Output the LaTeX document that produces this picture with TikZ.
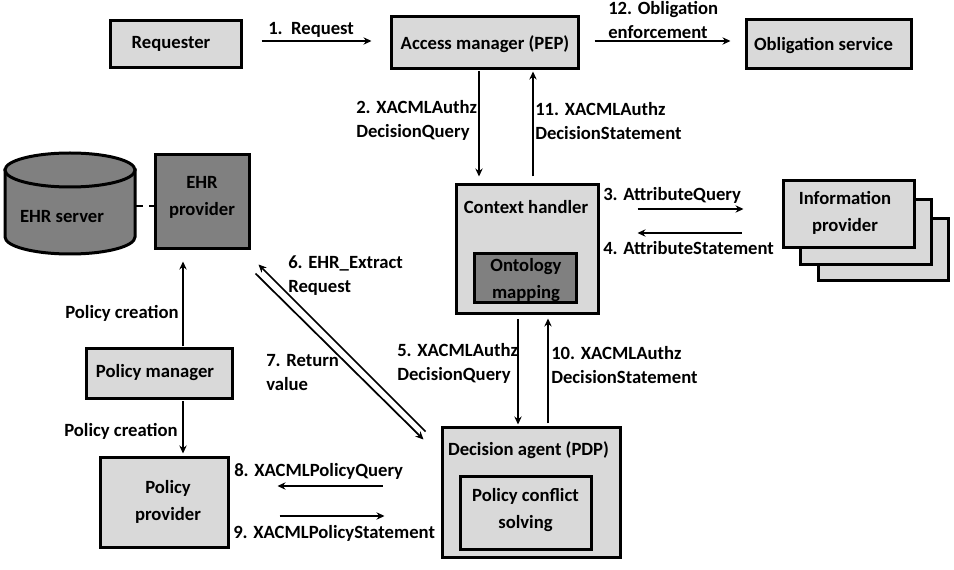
\documentclass[tikz,border=0pt]{standalone}
\usepackage{fontspec}
\setmainfont{Carlito}
\usetikzlibrary{arrows.meta}
\tikzset{
	x=0.75pt, y=-0.75pt,
	box/.style 2 args={draw=black, line width=2.25pt, fill=black!15, inner sep=0pt, minimum width=#1*0.75pt, minimum height=#2*0.75pt},
	darkbox/.style 2 args={box={#1}{#2}, fill=black!50},
	txt/.style={inner sep=0pt, yshift=-1pt, align=center, font=\fontsize{14}{20.25}\selectfont\bfseries},
	lbl/.style={txt, anchor=west, align=left, font=\fontsize{14}{18}\selectfont\bfseries},
	arw/.style={-{Stealth[length=6pt,width=5.5pt]}, line width=1.3pt},
}
\begin{document}
\begin{tikzpicture}
		%%%%% START %%%%%
		\useasboundingbox (0, 0) rectangle (954, 570);
		
		\node[box={131}{47}] (req) at (175.5, 44.5) {};
		\node[box={187}{52}] (pep) at (484.5, 43) {};
		\node[box={165}{49}] (obl) at (828.5, 44.5) {};
		\node[txt] (reqtxt) at (171, 43) {Requester};
		\node[txt] (peptxt) at (485, 43) {Access manager (PEP)};
		\node[txt] (obltxt) at (823.5, 44) {Obligation service};
		
		\draw[line width=2.25pt, fill=black!50] (5, 170) -- (5, 237) arc[start angle=180, end angle=0, x radius=65, y radius=17] -- (135, 170) -- cycle;
		\draw[line width=2.25pt, fill=black!50] (70, 170) ellipse (65 and 17);
		\coordinate (srv) at (135, 206);
		\node[txt] (srvtxt) at (62, 215) {EHR server};
		\node[darkbox={94}{94}] (ehr) at (202, 202) {};
		\node[txt] (ehrtxt) at (202, 196.5) {EHR\\provider};
		
		\node[box={142}{129}] (ctx) at (527, 249.5) {};
		\node[txt] (ctxtxt) at (526, 205.5) {Context handler};
		\node[darkbox={102}{49}] (ont) at (525, 278.5) {};
		\node[txt] (onttxt) at (526, 278.5) {Ontology\\mapping};
		
		\node[box={130}{62}] (infoc) at (883, 250) {};
		\node[box={131}{65}] (infob) at (865.5, 232.5) {};
		\node[box={131}{67}] (info) at (848.5, 214.5) {};
		\node[txt] (infotxt) at (845, 211.5) {Information\\provider};
		
		\node[box={146}{50}] (pm) at (159, 374) {};
		\node[txt] (pmtxt) at (155, 371) {Policy manager};
		\node[box={128}{89}] (pp) at (164, 502.5) {};
		\node[txt] (pptxt) at (168, 500.5) {Policy\\provider};
		
		\node[box={178}{129}] (pdp) at (531, 492.5) {};
		\node[txt] (pdptxt) at (528.5, 449) {Decision agent (PDP)};
		\node[box={131}{73}] (pcs) at (525.5, 512.5) {};
		\node[txt] (pcstxt) at (525.5, 508.5) {Policy conflict\\solving};
		
		\draw[line width=1.5pt, dash pattern=on 6pt off 4.5pt] (srv) -- ([shift={(0, 4)}]ehr.west);
		
		\draw[arw] ([shift={(19, -3.5)}]req.east) -- ([shift={(-18, -2)}]pep.west);
		\draw[arw] ([shift={(15, -2)}]pep.east) -- ([shift={(-14, -3.5)}]obl.west);
		\draw[arw] ([shift={(-5.5, 1)}]pep.south) -- ([shift={(-48, -7)}]ctx.north);
		\draw[arw] ([shift={(6, -7)}]ctx.north) -- ([shift={(48.5, 1)}]pep.south);
		\draw[arw] ([shift={(38, -40.5)}]ctx.east) -- ([shift={(-38, -5.5)}]info.west);
		\draw[arw] ([shift={(-40, 18.5)}]info.west) -- ([shift={(38, -16.5)}]ctx.east);
		\draw[arw] ([shift={(-9, 4)}]ctx.south) -- ([shift={(-13, -2)}]pdp.north);
		\draw[arw] ([shift={(17, -3)}]pdp.north) -- ([shift={(21, 3)}]ctx.south);
		\draw[arw] ([shift={(-15, 5)}]pdp.north west) -- ([shift={(8, 14)}]ehr.south east);
		\draw[arw] ([shift={(5, 23)}]ehr.south east) -- ([shift={(-17, 13)}]pdp.north west);
		\draw[arw] ([shift={(24, -1)}]pm.north) -- ([shift={(-19, 11)}]ehr.south);
		\draw[arw] ([shift={(24, 1)}]pm.south) -- ([shift={(19, -3)}]pp.north);
		\draw[arw] ([shift={(-58, -6.5)}]pdp.west) -- ([shift={(48, -16.5)}]pp.east);
		\draw[arw] ([shift={(50, 13.5)}]pp.east) -- ([shift={(-56, 23.5)}]pdp.west);
		
		\node[lbl] (l1) at (268, 29) {1.\ \ Request};
		\node[lbl] (l12) at (608, 19) {12. Obligation\\enforcement};
		\node[lbl] (l2) at (356, 119) {2. XACMLAuthz\\DecisionQuery};
		\node[lbl] (l11) at (535, 120) {11. XACMLAuthz\\DecisionStatement};
		\node[lbl] (l3) at (603, 194.5) {3. AttributeQuery};
		\node[lbl] (l4) at (603, 246.5) {4. AttributeStatement};
		\node[lbl] (l5) at (397, 362.5) {5. XACMLAuthz\\DecisionQuery};
		\node[lbl] (l10) at (551, 363.5) {10. XACMLAuthz\\DecisionStatement};
		\node[lbl] (l6) at (288, 274) {6. EHR\_Extract\\Request};
		\node[lbl] (l7) at (266, 371) {7. Return\\value};
		\node[lbl] (l8) at (234, 470) {8. XACMLPolicyQuery};
		\node[lbl] (l9) at (233, 532) {9. XACMLPolicyStatement};
		\node[lbl] (pc1) at (65, 312) {Policy creation};
		\node[lbl] (pc2) at (64, 430) {Policy creation};
		
		%%%%% END %%%%%
	\end{tikzpicture}
\end{document}
